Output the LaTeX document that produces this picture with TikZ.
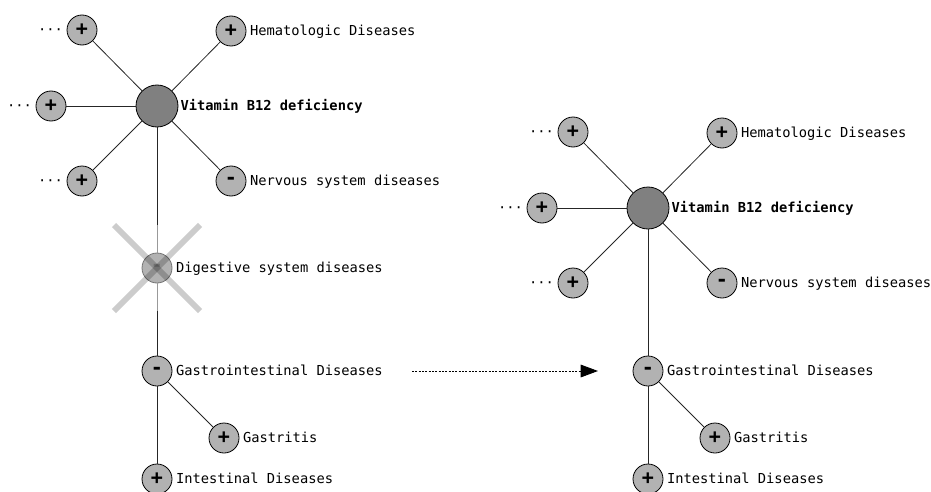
\documentclass[tikz,border=0pt]{standalone}
\usepackage{fontspec}
\setmainfont{DejaVu Sans Mono}
\usetikzlibrary{positioning,arrows.meta}

\tikzset{
    sign/.style={circle, draw=black, line width=0.6pt, fill=black!30, minimum size=22.5pt, inner sep=0pt, font=\fontsize{15pt}{15pt}\selectfont\bfseries},
    root/.style={circle, draw=black, line width=0.6pt, fill=black!50, minimum size=31.5pt, inner sep=0pt},
    lbl/.style={inner sep=2.5pt, text height=7.6pt, text depth=2.4pt, yshift=-1pt},
    link/.style={draw=black!85, line width=0.6pt},
    faint/.style={draw=black!40, line width=0.6pt},
    struck/.style={draw=black, opacity=0.2, line width=4.5pt},
    jump/.style={dash pattern=on 1.5pt off 1pt, line width=0.7pt, -{Triangle[length=13pt,width=9.5pt]}},
}

% star of related terms round the root term
\newcommand\vitaminStar[1]{
    \node[root] (#1vit) at (0,0) {};
    \node[lbl, right=-1pt of #1vit] (#1vitlbl) {\bfseries Vitamin B12 deficiency};

    \node[sign] (#1hema) at (74,-75) {+};
    \node[lbl, right=0pt of #1hema] (#1hemalbl) {Hematologic Diseases};
    \node[sign] (#1nerv) at (74,75) {-};
    \node[lbl, right=0pt of #1nerv] (#1nervlbl) {Nervous system diseases};

    \node[sign] (#1upper) at (-75,-76) {+};
    \node[lbl, left=0pt of #1upper] (#1upperdots) {···};
    \node[sign] (#1side) at (-106,0) {+};
    \node[lbl, left=0pt of #1side] (#1sidedots) {···};
    \node[sign] (#1lower) at (-75,75) {+};
    \node[lbl, left=0pt of #1lower] (#1lowerdots) {···};

    \foreach \n in {hema,nerv,upper,side,lower} {
        \draw[link] (#1vit) -- (#1\n);
    }
}

% the gastrointestinal branch
\newcommand\gastroTree[1]{
    \node[sign] (#1gastro) at (0,0) {-};
    \node[lbl, right=0pt of #1gastro] (#1gastrolbl) {Gastrointestinal Diseases};
    \node[sign] (#1gastritis) at (67,67) {+};
    \node[lbl, right=0pt of #1gastritis] (#1gastritislbl) {Gastritis};
    \node[sign] (#1intest) at (0,108) {+};
    \node[lbl, right=0pt of #1intest] (#1intestlbl) {Intestinal Diseases};

    \draw[link] (#1gastro) -- (#1gastritis);
    \draw[link] (#1gastro) -- (#1intest);
}

\begin{document}
\begin{tikzpicture}[x=0.75pt, y=-0.75pt, font=\fontsize{10.3pt}{12pt}\selectfont]

    \useasboundingbox (0,0) rectangle (931,492);

    %before: the term that gets removed
    \begin{scope}[shift={(157,106)}]
        \vitaminStar{l}
    \end{scope}
    \begin{scope}[shift={(157,371)}]
        \gastroTree{l}
    \end{scope}

    \node[sign, draw=black!55, text=black!45] (ldig) at (157,268) {-};
    \node[lbl, right=0pt of ldig] (ldiglbl) {Digestive system diseases};

    \coordinate (ctop) at (157,225);
    \coordinate (cbot) at (157,311);
    \draw[link] (lvit) -- (ctop);
    \draw[faint] (ctop) -- (ldig);
    \draw[faint] (ldig) -- (cbot);
    \draw[link] (cbot) -- (lgastro);

    \draw[struck] (114,225) -- (200,311);
    \draw[struck] (114,311) -- (200,225);

    %after: the root is linked straight to the branch
    \begin{scope}[shift={(648,208)}]
        \vitaminStar{r}
    \end{scope}
    \begin{scope}[shift={(648,371)}]
        \gastroTree{r}
    \end{scope}

    \draw[link] (rvit) -- (rgastro);

    \coordinate (jumpstart) at (412,371);
    \coordinate (jumpend) at (598,371);
    \draw[jump] (jumpstart) -- (jumpend);

\end{tikzpicture}
\end{document}
